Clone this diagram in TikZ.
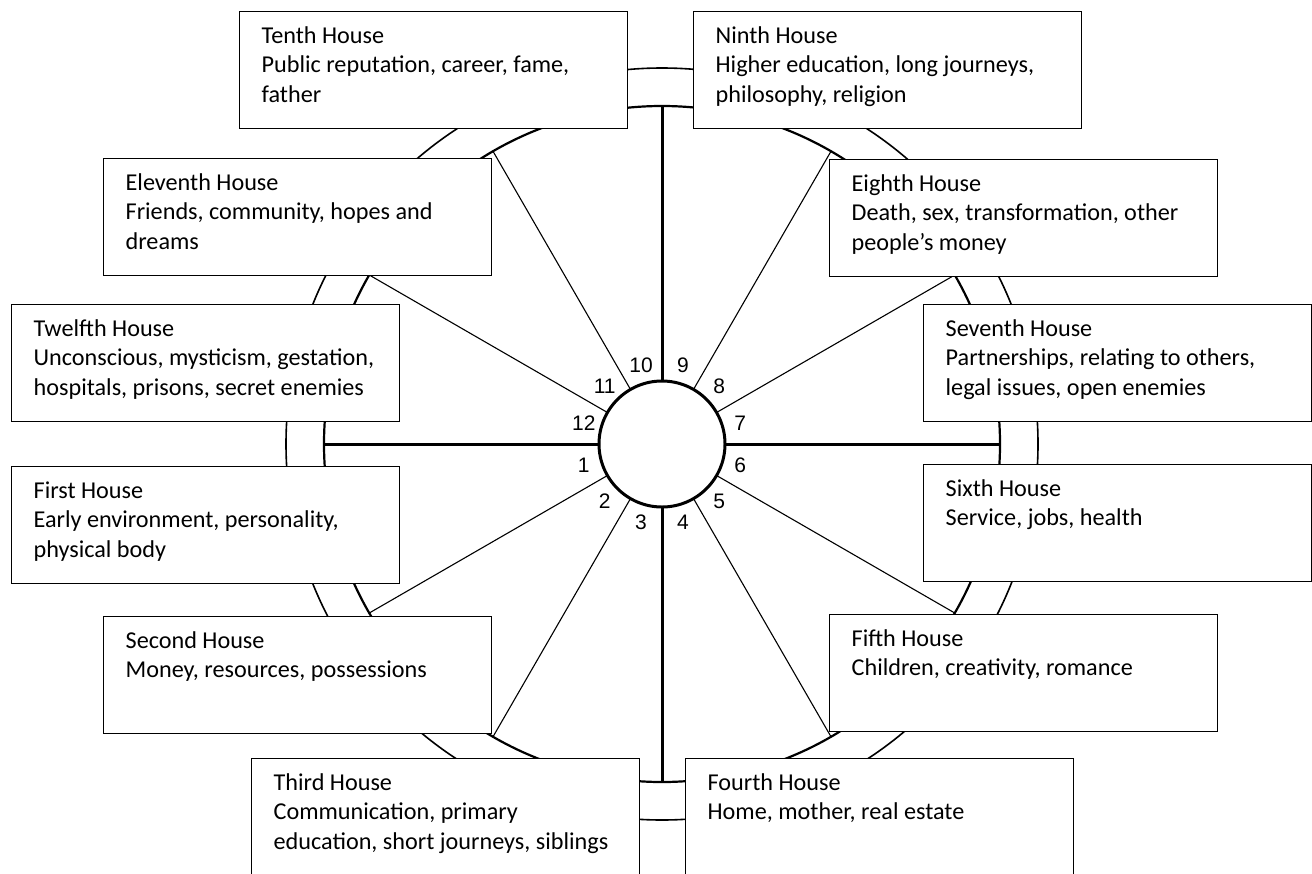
\documentclass[tikz,border=0pt]{standalone}
\usepackage{fontspec}
\setmainfont{Carlito}
\newfontfamily\numfont{Liberation Sans}
\usepackage{tikz}

\begin{document}
\begin{tikzpicture}
[
	x=1pt, y=1pt,
	houseBox/.style={draw, line width=1.3pt, fill=white, anchor=north west, inner xsep=22pt, inner ysep=11pt, font=\fontsize{24.2}{29.5}\selectfont},
	ringLine/.style={circle, draw, inner sep=0pt, outer sep=0pt},
	thickSpoke/.style={line width=3pt},
	thinSpoke/.style={line width=1.1pt},
	numLabel/.style={font=\numfont\fontsize{21}{21}\selectfont, inner sep=0pt}
]

\def\houseText#1{\parbox[t][95pt][t]{344pt}{\raggedright\strut #1}}

% Fix the page
\useasboundingbox (0,0) rectangle (1312,-873);
\coordinate (c) at (662,-444);

% Draw rings
\node[ringLine, line width=1.6pt, minimum size=752pt] (outerRing) at (c) {};
\node[ringLine, line width=2.2pt, minimum size=676pt] (ring) at (c) {};

% Draw hub
\node[ringLine, line width=3pt, minimum size=126pt, fill=white] (hub) at (c) {};

% Draw cusps
\draw[thickSpoke] (hub.0)--(ring.0) (hub.90)--(ring.90) (hub.180)--(ring.180) (hub.270)--(ring.270);
\draw[thinSpoke] (hub.30)--(ring.30) (hub.60)--(ring.60) (hub.120)--(ring.120) (hub.150)--(ring.150)
                 (hub.210)--(ring.210) (hub.240)--(ring.240) (hub.300)--(ring.300) (hub.330)--(ring.330);

% Draw house numbers
\node[numLabel] (n1) at ([shift={(195:81pt)}]c) {1};
\node[numLabel] (n2) at ([shift={(225:81pt)}]c) {2};
\node[numLabel] (n3) at ([shift={(255:81pt)}]c) {3};
\node[numLabel] (n4) at ([shift={(285:81pt)}]c) {4};
\node[numLabel] (n5) at ([shift={(315:81pt)}]c) {5};
\node[numLabel] (n6) at ([shift={(345:81pt)}]c) {6};
\node[numLabel] (n7) at ([shift={(15:81pt)}]c) {7};
\node[numLabel] (n8) at ([shift={(45:81pt)}]c) {8};
\node[numLabel] (n9) at ([shift={(75:81pt)}]c) {9};
\node[numLabel] (n10) at ([shift={(105:81pt)}]c) {10};
\node[numLabel] (n11) at ([shift={(135:81pt)}]c) {11};
\node[numLabel] (n12) at ([shift={(165:81pt)}]c) {12};

% Draw house boxes
\node[houseBox] (h10) at (239,-11) {\houseText{Tenth House\\Public reputation, career, fame,\\father}};
\node[houseBox] (h9) at (693,-11) {\houseText{Ninth House\\Higher education, long journeys,\\philosophy, religion}};
\node[houseBox] (h11) at (103,-158) {\houseText{Eleventh House\\Friends, community, hopes and\\dreams}};
\node[houseBox] (h8) at (829,-159) {\houseText{Eighth House\\Death, sex, transformation, other\\people’s money}};
\node[houseBox] (h12) at (11,-304) {\houseText{Twelfth House\\Unconscious, mysticism, gestation,\\hospitals, prisons, secret enemies}};
\node[houseBox] (h7) at (923,-304) {\houseText{Seventh House\\Partnerships, relating to others,\\legal issues, open enemies}};
\node[houseBox] (h1) at (11,-466) {\houseText{First House\\Early environment, personality,\\physical body}};
\node[houseBox] (h6) at (923,-464) {\houseText{Sixth House\\Service, jobs, health}};
\node[houseBox] (h2) at (103,-616) {\houseText{Second House\\Money, resources, possessions}};
\node[houseBox] (h5) at (829,-614) {\houseText{Fifth House\\Children, creativity, romance}};
\node[houseBox] (h3) at (251,-758) {\houseText{Third House\\Communication, primary\\education, short journeys, siblings}};
\node[houseBox] (h4) at (685,-758) {\houseText{Fourth House\\Home, mother, real estate}};

\end{tikzpicture}
\end{document}
